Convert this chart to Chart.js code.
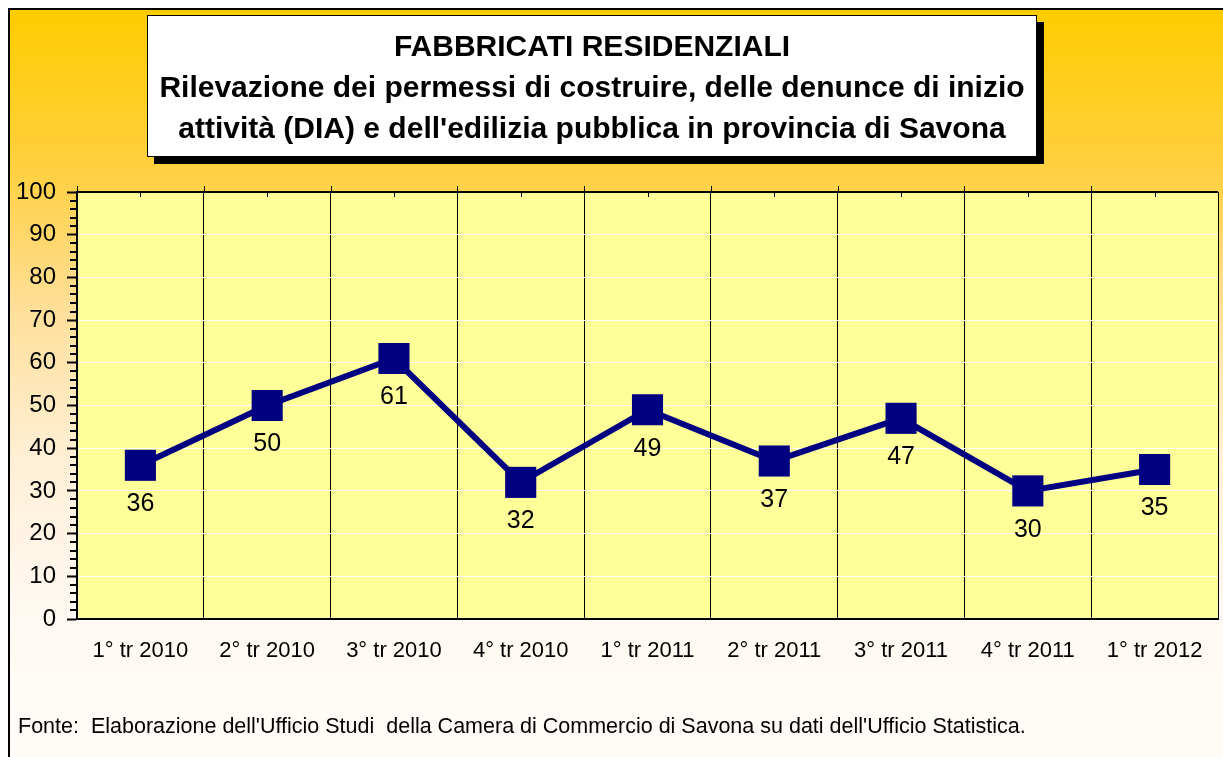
<!DOCTYPE html>
<html lang="it">

<head>
    <meta charset="UTF-8">
    <title>Fabbricati residenziali - Savona</title>
    <style>
        * {
            margin: 0;
            padding: 0;
            box-sizing: border-box;
        }

        body {
            width: 1223px;
            height: 757px;
            overflow: hidden;
            background: #fff;
            font-family: "Liberation Sans", Arial, sans-serif;
            position: relative;
        }

        .frame {
            position: absolute;
            left: 8px;
            top: 8px;
            width: 1240px;
            height: 780px;
            border-left: 2px solid #000;
            border-top: 2px solid #000;
            background: linear-gradient(to bottom, #FFCC00 0px, #FFD040 160px, #FFDF9A 300px, #FFEFD6 450px, #FFF9F2 600px, #FFFCF8 757px);
        }

        #chart {
            position: absolute;
            left: 0;
            top: 0;
        }

        .title-box {
            position: absolute;
            left: 147px;
            top: 15px;
            width: 890px;
            height: 142px;
            background: #fff;
            border: 1.5px solid #000;
            box-shadow: 7px 7px 0 #000;
            text-align: center;
            font-weight: bold;
            font-size: 30px;
            line-height: 41px;
            padding-top: 9px;
            color: #000;
            white-space: nowrap;
        }

        .fonte {
            position: absolute;
            left: 18px;
            top: 714px;
            font-size: 21.5px;
            color: #000;
            white-space: nowrap;
        }
    </style>
</head>

<body>
    <div class="frame"></div>
    <canvas id="chart" width="1240" height="757"></canvas>
    <div class="title-box">
        FABBRICATI RESIDENZIALI<br>
        Rilevazione dei permessi di costruire, delle denunce di inizio<br>
        attività (DIA) e dell'edilizia pubblica in provincia di Savona
    </div>
    <div class="fonte">Fonte:&nbsp; Elaborazione dell'Ufficio Studi&nbsp; della Camera di Commercio di Savona su dati dell'Ufficio Statistica.</div>

    <script src="https://cdn.jsdelivr.net/npm/chart.js"></script>
    <script>
        // trimestri e numero di fabbricati
        const trimestri = ['1° tr 2010', '2° tr 2010', '3° tr 2010', '4° tr 2010', '1° tr 2011', '2° tr 2011', '3° tr 2011', '4° tr 2011', '1° tr 2012'];
        const fabbricati = [36, 50, 61, 32, 49, 37, 47, 30, 35];
        const yMin = 0;
        const yMax = 100;
        const yStep = 10;
        const yMinorStep = 2;

        const FONT = '"Liberation Sans", Arial, sans-serif';

        // sfondo giallo dell'area del grafico + bordo superiore
        const plotArea = {
            id: 'plotArea',
            beforeDraw(chart) {
                const { ctx, chartArea: a } = chart;
                ctx.save();
                ctx.fillStyle = '#FFFF99';
                ctx.fillRect(a.left, a.top, a.right - a.left, a.bottom - a.top);
                ctx.restore();
            },
            afterDraw(chart) {
                const { ctx, chartArea: a } = chart;
                const y = chart.scales.y;
                const x = chart.scales.x;
                ctx.save();
                ctx.strokeStyle = '#000';
                ctx.lineWidth = 2;
                ctx.beginPath();
                ctx.moveTo(a.left, a.top);
                ctx.lineTo(a.right, a.top);
                ctx.stroke();
                // tacche secondarie
                for (let v = yMin; v <= yMax; v += yMinorStep) {
                    if (v % yStep === 0) continue;
                    const py = Math.round(y.getPixelForValue(v));
                    ctx.beginPath();
                    ctx.moveTo(a.left - 7, py);
                    ctx.lineTo(a.left, py);
                    ctx.stroke();
                }
                // tacche in alto: al centro delle categorie e sui separatori
                ctx.lineWidth = 1;
                trimestri.forEach((t, i) => {
                    const cx = Math.round(x.getPixelForValue(i)) + 0.5;
                    ctx.beginPath();
                    ctx.moveTo(cx, a.top);
                    ctx.lineTo(cx, a.top + 5);
                    ctx.stroke();
                    const bx = Math.round(x.getPixelForValue(i - 0.5)) + 0.5;
                    ctx.beginPath();
                    ctx.moveTo(bx, a.top - 6);
                    ctx.lineTo(bx, a.top);
                    ctx.stroke();
                });
                ctx.restore();
            }
        };

        // etichette dei valori sotto i punti
        const valueLabels = {
            id: 'valueLabels',
            afterDatasetsDraw(chart) {
                const { ctx } = chart;
                const meta = chart.getDatasetMeta(0);
                ctx.save();
                ctx.font = '25px ' + FONT;
                ctx.fillStyle = '#000';
                ctx.textAlign = 'center';
                ctx.textBaseline = 'middle';
                meta.data.forEach((pt, i) => {
                    ctx.fillText(fabbricati[i], pt.x, pt.y + 39);
                });
                ctx.restore();
            }
        };

        new Chart(document.getElementById('chart'), {
            type: 'line',
            data: {
                labels: trimestri,
                datasets: [{
                    data: fabbricati,
                    borderColor: '#000080',
                    borderWidth: 6,
                    backgroundColor: '#000080',
                    pointStyle: 'rect',
                    pointRadius: 22,
                    pointBorderWidth: 0,
                    pointBackgroundColor: '#000080',
                    tension: 0
                }]
            },
            options: {
                responsive: false,
                animation: false,
                layout: {
                    padding: { top: 192, right: 11, bottom: 98, left: 0 }
                },
                plugins: {
                    legend: { display: false },
                    tooltip: { enabled: false }
                },
                scales: {
                    x: {
                        offset: true,
                        grid: {
                            offset: true,
                            color: '#000',
                            lineWidth: 1,
                            drawTicks: false
                        },
                        border: { color: '#000', width: 2 },
                        ticks: {
                            color: '#000',
                            font: { family: FONT, size: 22 },
                            padding: 19,
                            maxRotation: 0,
                            autoSkip: false
                        },
                        afterFit(s) { s.height = 40; }
                    },
                    y: {
                        min: yMin,
                        max: yMax,
                        grid: {
                            color: '#fff',
                            lineWidth: 1,
                            tickColor: '#000',
                            tickWidth: 2,
                            tickLength: 10
                        },
                        border: { color: '#000', width: 2 },
                        ticks: {
                            stepSize: yStep,
                            color: '#000',
                            font: { family: FONT, size: 24 },
                            padding: 11
                        },
                        afterFit(s) { s.width = 77; }
                    }
                }
            },
            plugins: [plotArea, valueLabels]
        });
    </script>
</body>

</html>
